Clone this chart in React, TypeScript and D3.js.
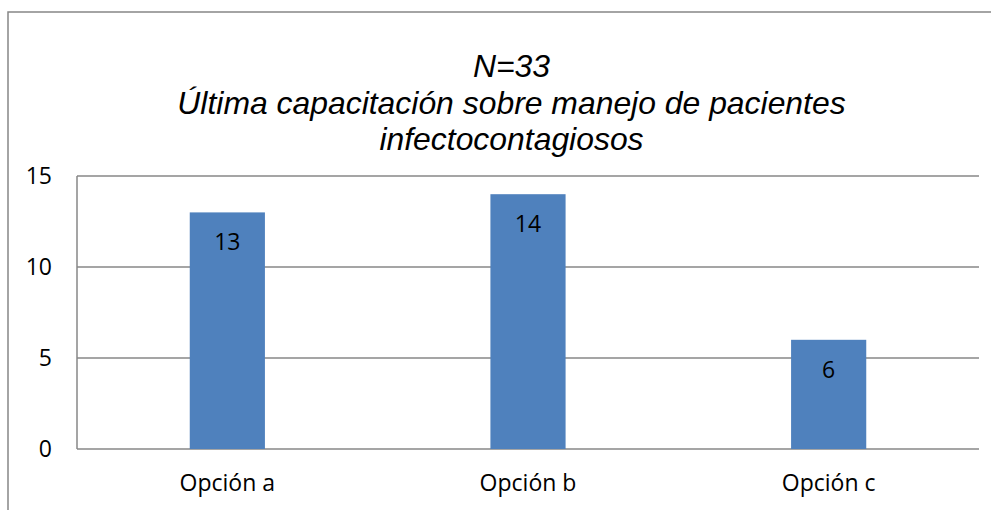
import React from "react";
import * as d3 from "d3";

const categories = ["Opción a", "Opción b", "Opción c"];
const values = [13, 14, 6];
const yTicks = [0, 5, 10, 15];
const titleLines = ["N=33", "Última capacitación sobre manejo de pacientes", "infectocontagiosos"];

const W = 991;
const H = 510;
const plot = { left: 77, right: 979, top: 176, bottom: 449 };

export default function App() {
  const x = d3
    .scaleBand<string>()
    .domain(categories)
    .range([plot.left, plot.right])
    .paddingInner(0.75)
    .paddingOuter(0.375);
  const y = d3.scaleLinear().domain([0, 15]).range([plot.bottom, plot.top]);
  const font = "'Open Sans', sans-serif";
  return (
    <svg
      width={W}
      height={H}
      style={{ position: "absolute", left: 0, top: 0, background: "#fff" }}
    >
      <rect x={8} y={12} width={W + 20} height={H + 20} fill="#fff" stroke="#878787" strokeWidth={1.5} />
      {titleLines.map((t, i) => (
        <text
          key={i}
          x={511.5}
          y={77 + i * 36.6}
          textAnchor="middle"
          fontFamily="'Liberation Sans', Arial, sans-serif"
          fontStyle="italic"
          fontSize={31.9}
          fill="#000"
        >
          {t}
        </text>
      ))}
      {yTicks.map((t) => (
        <g key={t}>
          <line x1={plot.left} x2={plot.right} y1={y(t)} y2={y(t)} stroke="#878787" strokeWidth={1.5} />
          <text
            x={52}
            y={y(t)}
            dy="0.36em"
            textAnchor="end"
            fontFamily={font}
            fontSize={23}
            fill="#000"
          >
            {t}
          </text>
        </g>
      ))}
      <line x1={plot.left} x2={plot.left} y1={plot.top} y2={plot.bottom} stroke="#878787" strokeWidth={1.5} />
      {categories.map((c, i) => (
        <g key={c}>
          <rect
            x={x(c)!}
            y={y(values[i])}
            width={x.bandwidth()}
            height={plot.bottom - y(values[i])}
            fill="#4F81BD"
          />
          <text
            x={x(c)! + x.bandwidth() / 2}
            y={y(values[i]) + 38}
            textAnchor="middle"
            fontFamily={font}
            fontSize={23}
            fill="#000"
          >
            {values[i]}
          </text>
          <text
            x={x(c)! + x.bandwidth() / 2}
            y={491}
            textAnchor="middle"
            fontFamily={font}
            fontSize={23}
            fill="#000"
          >
            {c}
          </text>
        </g>
      ))}
    </svg>
  );
}
